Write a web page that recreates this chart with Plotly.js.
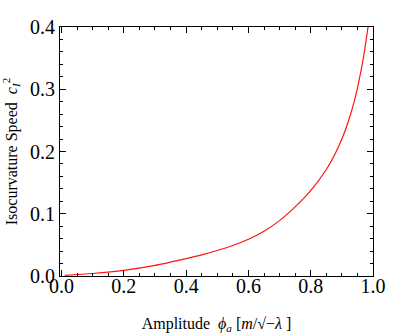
<!DOCTYPE html>
<html>
<head>
<meta charset="utf-8">
<script src="https://cdn.plot.ly/plotly-3.0.1.min.js"></script>
<style>
  body { margin: 0; background: white; }
  #chart { width: 400px; height: 334px; }
</style>
</head>
<body>
<div id="chart"></div>
<script>
// Amplitude values (x)
let amplitude = [0.01, 0.1, 0.2, 0.3, 0.4, 0.45, 0.5, 0.55, 0.6, 0.65, 0.7, 0.75, 0.8, 0.85, 0.88, 0.9, 0.92, 0.94, 0.95, 0.96, 0.97, 0.98, 0.984];

// Isocurvature speed squared (y)
let speed = [0.001, 0.004, 0.009, 0.017, 0.028, 0.034, 0.041, 0.049, 0.059, 0.072, 0.089, 0.111, 0.137, 0.171, 0.198, 0.220, 0.247, 0.281, 0.302, 0.326, 0.353, 0.386, 0.400];

let xTicks = [0.0, 0.2, 0.4, 0.6, 0.8, 1.0];
let yTicks = [0.0, 0.1, 0.2, 0.3, 0.4];

let serif = "Liberation Serif, Times New Roman, serif";

let trace = {
  x: amplitude,
  y: speed,
  type: "scatter",
  mode: "lines",
  line: { color: "rgb(255, 20, 20)", width: 1.2, shape: "spline", smoothing: 0.8 },
  hoverinfo: "skip"
};

let axisCommon = {
  showgrid: false,
  zeroline: false,
  showline: true,
  linecolor: "black",
  linewidth: 1,
  mirror: "allticks",
  ticks: "inside",
  ticklen: 6,
  tickwidth: 1,
  tickcolor: "black",
  tickfont: { family: serif, size: 20, color: "black" },
  tickmode: "array"
};

let layout = {
  width: 400,
  height: 334,
  margin: { l: 60, r: 27, t: 27, b: 58 },
  paper_bgcolor: "white",
  plot_bgcolor: "white",
  showlegend: false,
  font: { family: serif, color: "black" },
  xaxis: Object.assign({}, axisCommon, {
    range: [-0.005, 1.0],
    tickvals: xTicks,
    ticktext: xTicks.map(v => v.toFixed(1)),
    ticklabelstandoff: -8,
    minor: { dtick: 0.05, tick0: 0, ticks: "inside", ticklen: 3, tickcolor: "black" },
    title: {
      text: "Amplitude  <i>ϕ<sub>a</sub></i> [<i>m</i>/√−<i>λ</i> ]",
      font: { family: serif, size: 16, color: "black" },
      standoff: 22
    }
  }),
  yaxis: Object.assign({}, axisCommon, {
    range: [0, 0.4],
    tickvals: yTicks,
    ticktext: yTicks.map(v => v.toFixed(1)),
    minor: { dtick: 0.02, tick0: 0, ticks: "inside", ticklen: 3, tickcolor: "black" },
    title: {
      text: "Isocurvature Speed  <i>c<sub>I</sub></i><sup>2</sup>",
      font: { family: serif, size: 16, color: "black" },
      standoff: 9
    }
  })
};

Plotly.newPlot("chart", [trace], layout, { displayModeBar: false, staticPlot: true });
</script>
</body>
</html>
